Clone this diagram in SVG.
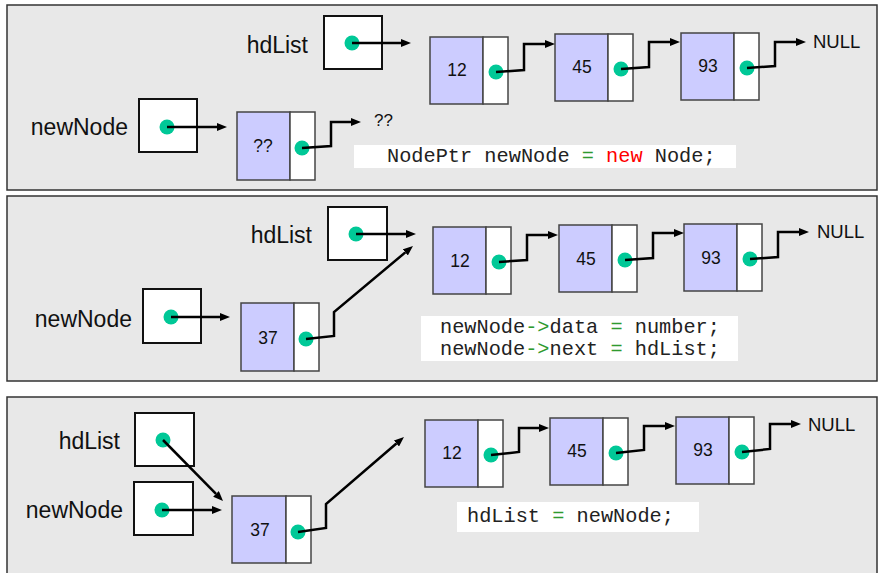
<svg xmlns="http://www.w3.org/2000/svg" width="879" height="573" viewBox="0 0 879 573">
  <style>
    .panel { fill: #e8e8e8; stroke: #333; stroke-width: 1.5; }
    .ptrbox { fill: #fff; stroke: #111; stroke-width: 2; }
    .data { fill: #ccccff; stroke: #444; stroke-width: 1.5; }
    .next { fill: #fff; stroke: #444; stroke-width: 1.5; }
    .dot { fill: #00c897; }
    .lbl { font-family: "Liberation Sans", Arial, sans-serif; font-size: 23px; fill: #111; text-anchor: end; }
    .val { font-family: "Liberation Sans", Arial, sans-serif; font-size: 17.5px; fill: #111; text-anchor: middle; }
    .null { font-family: "Liberation Sans", Arial, sans-serif; font-size: 18.5px; fill: #111; }
    .codebg { fill: #fff; }
    .code { font-family: "Liberation Mono", "Courier New", monospace; font-size: 20.3px; fill: #222; }
    .op { fill: #2f9a2f; }
    .kw { fill: #ff0000; }
    .link { fill: none; stroke: #000; stroke-width: 2.5; stroke-linejoin: miter; marker-end: url(#head); }
  </style>
  <defs>
    <marker id="head" markerUnits="userSpaceOnUse" markerWidth="10" markerHeight="8" viewBox="0 0 10 8" refX="0" refY="4" orient="auto">
      <path d="M0,0 L10,4 L0,8 z" fill="#000"/>
    </marker>
    <!-- a list node: data cell, next cell, pointer dot -->
    <g id="cell">
      <rect class="data" x="0" y="0" width="53" height="67"/>
      <rect class="next" x="53" y="0" width="25" height="67"/>
      <circle class="dot" cx="66" cy="35" r="7.5"/>
    </g>
  </defs>

  <!-- panel frames -->
  <rect class="panel" x="7" y="5" width="870" height="185"/>
  <rect class="panel" x="7" y="196" width="870" height="185"/>
  <rect class="panel" x="7" y="397" width="870" height="190"/>

  <!-- ===== step 1: allocate ===== -->
  <g id="p1-hdList">
    <text class="lbl" x="308" y="53">hdList</text>
    <rect class="ptrbox" x="324" y="16" width="58" height="53"/>
    <circle class="dot" cx="352" cy="43" r="7.5"/>
  </g>
  <g id="p1-newNode">
    <text class="lbl" x="128" y="135">newNode</text>
    <rect class="ptrbox" x="139" y="99" width="58" height="53"/>
    <circle class="dot" cx="167" cy="127" r="7.5"/>
  </g>
  <g id="p1-node-new" transform="translate(237,112)">
    <rect class="data" x="0" y="0" width="53" height="68"/>
    <rect class="next" x="53" y="0" width="25" height="68"/>
    <circle class="dot" cx="65" cy="36" r="7.5"/>
    <text class="val" x="26" y="40">??</text>
  </g>
  <text id="p1-unknown" class="null" x="374" y="126" style="font-size:17px">??</text>
  <g id="p1-node12" transform="translate(430,37)"><use href="#cell"/><text class="val" x="27" y="39">12</text></g>
  <g id="p1-node45" transform="translate(555,34)"><use href="#cell"/><text class="val" x="27" y="39">45</text></g>
  <g id="p1-node93" transform="translate(681,33)"><use href="#cell"/><text class="val" x="27" y="39">93</text></g>
  <text id="p1-null" class="null" x="813" y="48">NULL</text>
  <g id="p1-code">
    <rect class="codebg" x="354" y="145" width="382" height="23"/>
    <text class="code" x="387" y="162">NodePtr newNode <tspan class="op">=</tspan> <tspan class="kw">new</tspan> Node;</text>
  </g>

  <!-- ===== step 2: fill and link ===== -->
  <g id="p2-hdList">
    <text class="lbl" x="312" y="243">hdList</text>
    <rect class="ptrbox" x="328" y="207" width="59" height="53"/>
    <circle class="dot" cx="356" cy="234" r="7.5"/>
  </g>
  <g id="p2-newNode">
    <text class="lbl" x="132" y="327">newNode</text>
    <rect class="ptrbox" x="143" y="289" width="58" height="54"/>
    <circle class="dot" cx="171" cy="317" r="7.5"/>
  </g>
  <g id="p2-node37" transform="translate(241,303)"><rect class="data" x="0" y="0" width="53" height="68"/><rect class="next" x="53" y="0" width="25" height="68"/><circle class="dot" cx="65" cy="36" r="7.5"/><text class="val" x="27" y="41">37</text></g>
  <g id="p2-node12" transform="translate(433,227)"><use href="#cell"/><text class="val" x="27" y="40">12</text></g>
  <g id="p2-node45" transform="translate(559,225)"><use href="#cell"/><text class="val" x="27" y="40">45</text></g>
  <g id="p2-node93" transform="translate(684,224)"><use href="#cell"/><text class="val" x="27" y="40">93</text></g>
  <text id="p2-null" class="null" x="817" y="238">NULL</text>
  <g id="p2-code">
    <rect class="codebg" x="421" y="316" width="317" height="45"/>
    <text class="code" x="440" y="333">newNode<tspan class="op">-&gt;</tspan>data <tspan class="op">=</tspan> number;</text>
    <text class="code" x="440" y="355">newNode<tspan class="op">-&gt;</tspan>next <tspan class="op">=</tspan> hdList;</text>
  </g>

  <!-- ===== step 3: move head ===== -->
  <g id="p3-hdList">
    <text class="lbl" x="120" y="449">hdList</text>
    <rect class="ptrbox" x="135" y="413" width="59" height="53"/>
    <circle class="dot" cx="163" cy="440" r="7.5"/>
  </g>
  <g id="p3-newNode">
    <text class="lbl" x="123" y="518">newNode</text>
    <rect class="ptrbox" x="134" y="482" width="59" height="53"/>
    <circle class="dot" cx="162" cy="510" r="7.5"/>
  </g>
  <g id="p3-node37" transform="translate(232,496)"><rect class="data" x="0" y="0" width="54" height="67"/><rect class="next" x="54" y="0" width="25" height="67"/><circle class="dot" cx="66" cy="36" r="7.5"/><text class="val" x="28" y="40">37</text></g>
  <g id="p3-node12" transform="translate(425,420)"><use href="#cell"/><text class="val" x="27" y="39">12</text></g>
  <g id="p3-node45" transform="translate(550,418)"><use href="#cell"/><text class="val" x="27" y="39">45</text></g>
  <g id="p3-node93" transform="translate(676,417)"><use href="#cell"/><text class="val" x="27" y="39">93</text></g>
  <text id="p3-null" class="null" x="808" y="431">NULL</text>
  <g id="p3-code">
    <rect class="codebg" x="457" y="502" width="242" height="30"/>
    <text class="code" x="467" y="522">hdList <tspan class="op">=</tspan> newNode;</text>
  </g>

  <!-- connectors -->
  <g id="connectors">
    <!-- step 1 -->
    <path class="link" d="M352,43 L401,43"/>
    <path class="link" d="M167,127 L217,127"/>
    <path class="link" d="M302,148 L331,146 L331,122 L351,122"/>
    <path class="link" d="M496,72 L524,70 L524,44 L545,44"/>
    <path class="link" d="M621,69 L649,67 L649,42 L670,42"/>
    <path class="link" d="M747,68 L775,66 L775,42 L796,42"/>
    <!-- step 2 -->
    <path class="link" d="M356,234 L406,234"/>
    <path class="link" d="M171,317 L220,317"/>
    <path class="link" d="M306,339 L334,336 L334,312 L405.3,252.4"/>
    <path class="link" d="M499,262 L527,260 L527,235 L548,235"/>
    <path class="link" d="M625,260 L653,258 L653,233 L674,233"/>
    <path class="link" d="M750,259 L778,257 L778,232 L799,232"/>
    <!-- step 3 -->
    <path class="link" d="M163,440 L216,493.9"/>
    <path class="link" d="M162,510 L212,510"/>
    <path class="link" d="M298,532 L326,528 L326,504 L396.4,443.5"/>
    <path class="link" d="M491,455 L519,452 L519,428 L539,428"/>
    <path class="link" d="M616,453 L644,450 L644,426 L665,426"/>
    <path class="link" d="M742,452 L770,449 L770,424 L791,424"/>
  </g>
</svg>
